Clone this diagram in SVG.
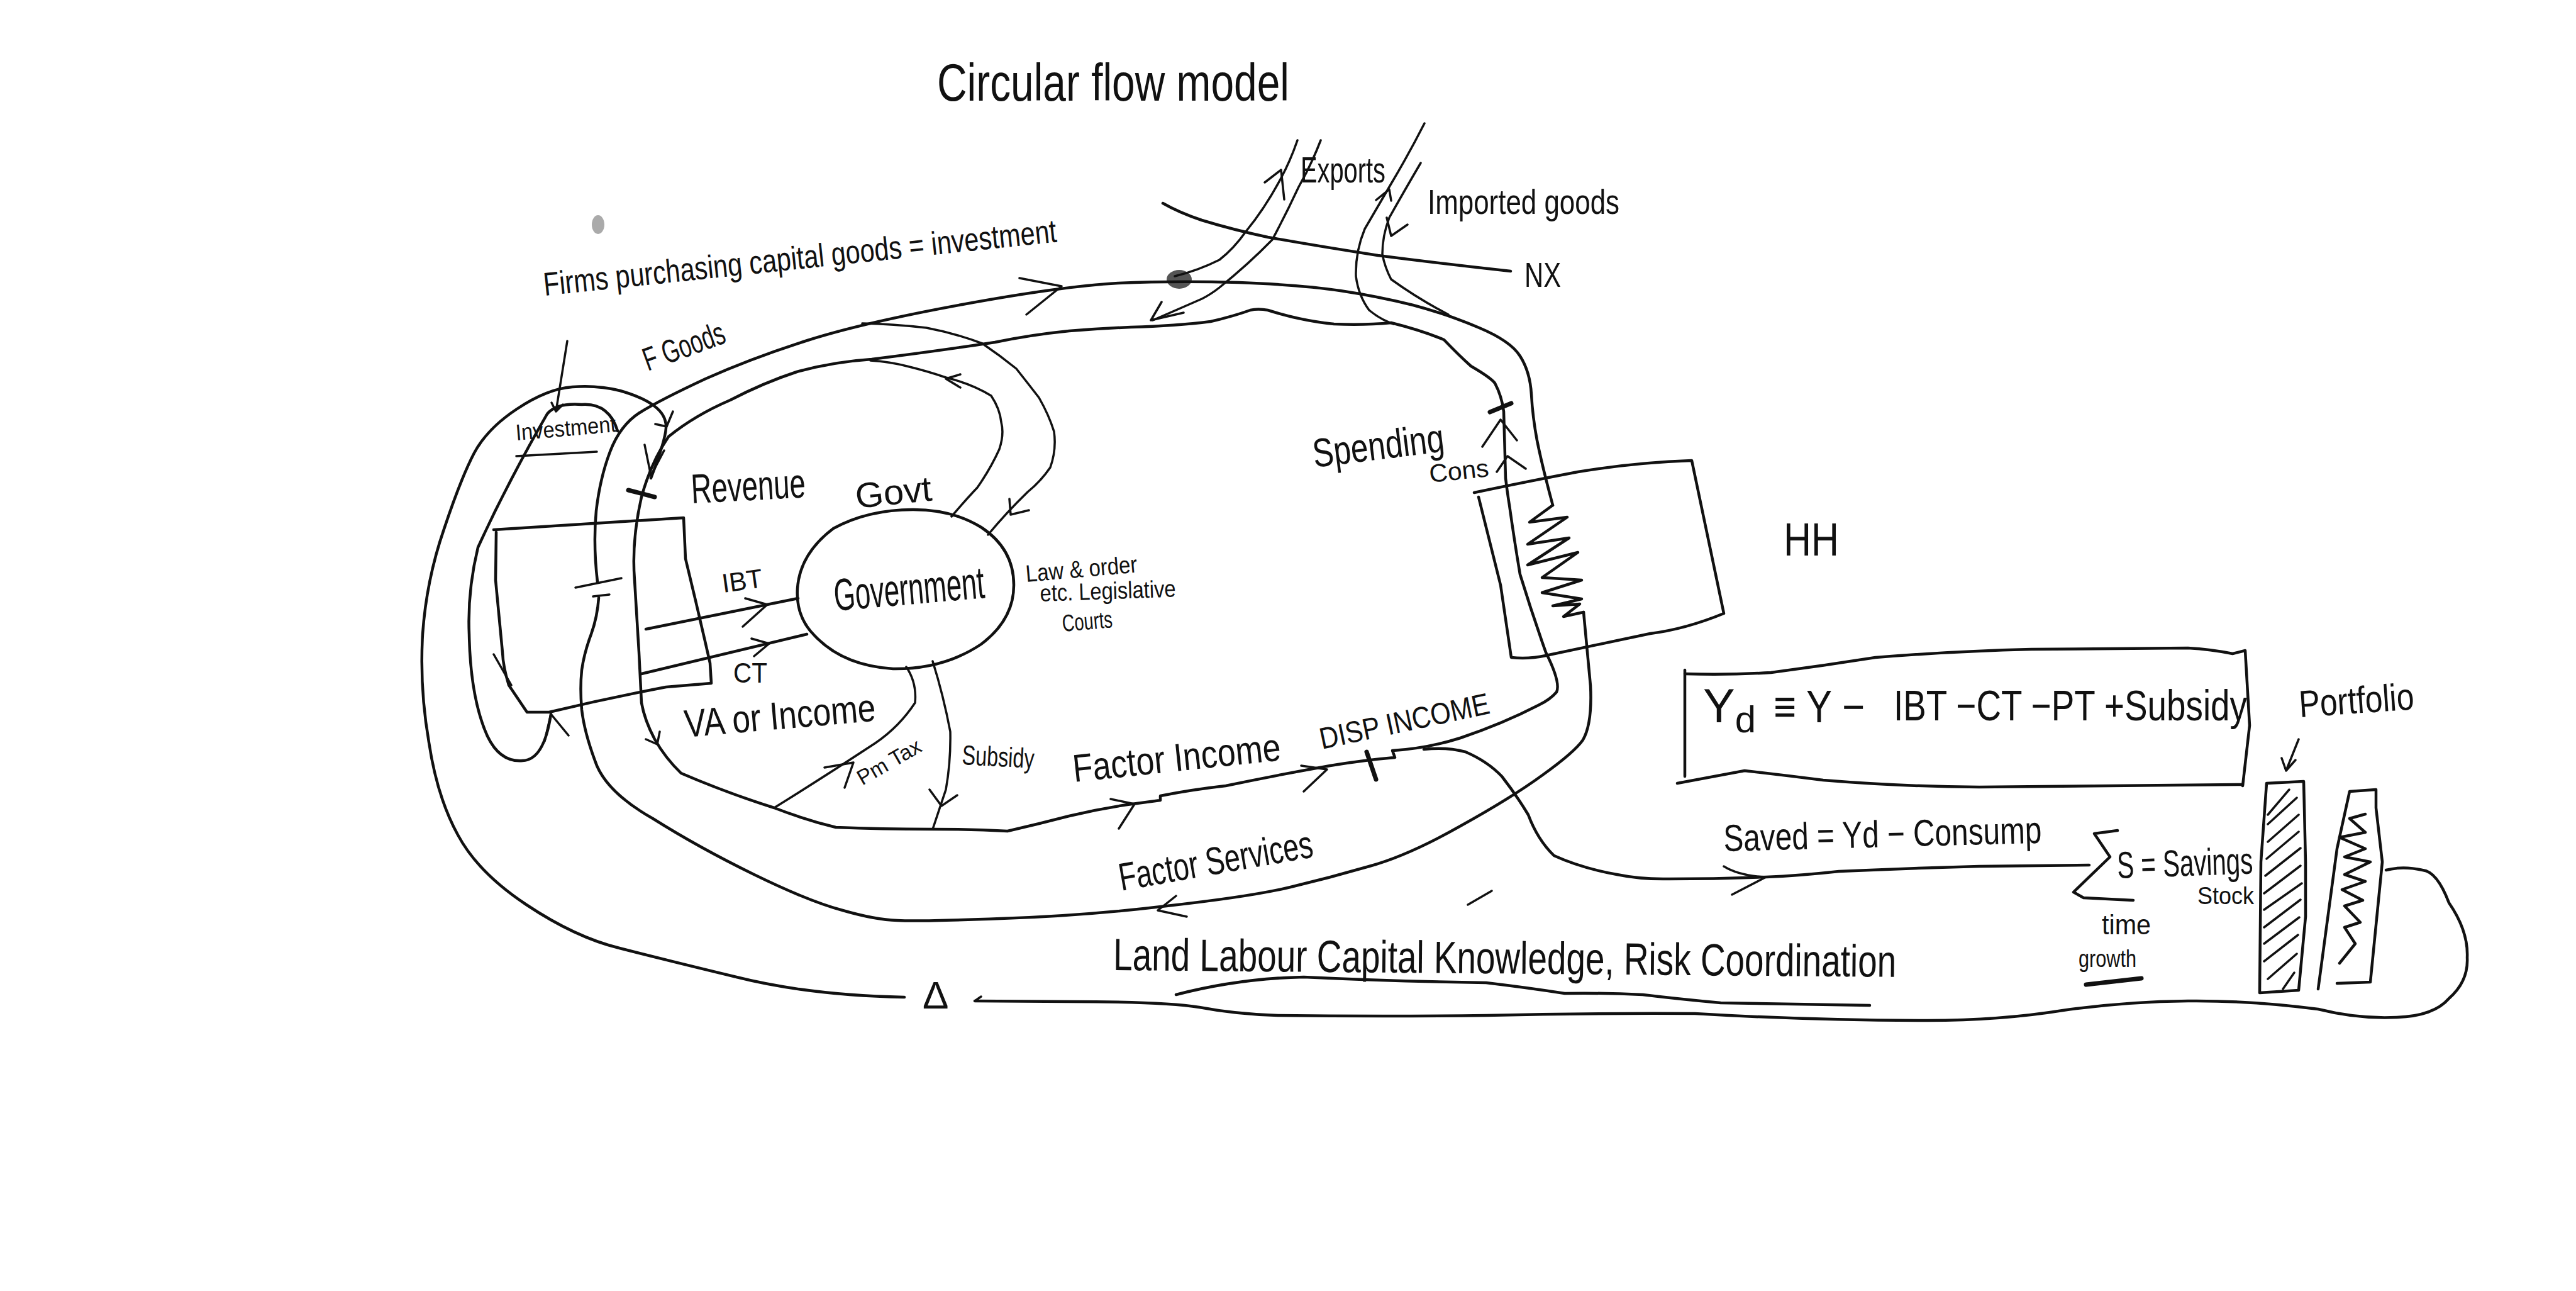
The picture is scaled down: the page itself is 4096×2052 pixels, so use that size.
<svg xmlns="http://www.w3.org/2000/svg" width="4096" height="2052" viewBox="0 0 4096 2052">
<style>
path,polyline{fill:none;stroke:#111;stroke-width:4.5;stroke-linecap:round;stroke-linejoin:round}
.t{stroke-width:3.5}
.k{stroke-width:7}
text{font-family:"Liberation Sans",Arial,sans-serif;fill:#111}
</style>
<rect width="4096" height="2052" fill="#fff"/>
<ellipse cx="951" cy="357" rx="10" ry="15" fill="#aaa"/>
<ellipse cx="1875" cy="444" rx="20" ry="15" fill="#555"/>
<g id="connectors">
<path id="goods-upper" d="M950 925Q943 865 948 812Q954 760 970 718Q986 676 1017 656Q1049 636 1122 602Q1196 569 1284 541Q1372 513 1530 484Q1688 455 1778 450Q1868 446 1970 449Q2072 453 2131 462Q2191 471 2247 485Q2303 500 2352 521Q2402 542 2417 566Q2433 591 2435 627Q2437 663 2444 700Q2452 740 2469 803"/>
<polyline id="coil-hh" points="2469,803 2432,830 2492,822 2429,865 2495,855 2429,898 2509,878 2452,918 2515,922 2452,942 2515,952 2469,963 2512,960 2486,980 2518,973"/>
<path id="factor-services" d="M2518 973L2529 1090Q2532 1150 2517 1176Q2504 1195 2454 1231Q2405 1267 2322 1313Q2239 1360 2177 1377Q2115 1395 2052 1410Q1990 1425 1855 1440Q1720 1456 1591 1460Q1462 1465 1427 1463Q1392 1462 1340 1447Q1287 1433 1199 1390Q1111 1347 1038 1301Q962 1258 946 1209Q929 1163 925 1128Q922 1094 925 1065Q929 1037 940 1008Q950 980 952 950"/>
<path id="income-loop" d="M1020 790Q1035 735 1063 694Q1105 660 1161 636Q1215 608 1267 591Q1325 575 1386 571Q1490 558 1582 544Q1640 532 1700 526Q1750 522 1798 520Q1870 518 1925 511Q1960 503 1988 493Q2000 490 2016 493Q2070 510 2121 515Q2170 517 2212 513Q2260 525 2296 540Q2320 565 2339 582Q2370 600 2377 609Q2388 630 2391 654L2394 760Q2397 785 2400 803Q2408 860 2417 913Q2436 975 2458 1037Q2482 1085 2475 1100Q2465 1112 2446 1121Q2390 1150 2322 1173Q2268 1190 2214 1193L2218 1204Q2170 1208 2115 1217Q2030 1232 1949 1249Q1895 1255 1845 1265L1845 1272L1800 1278Q1750 1285 1700 1297Q1650 1310 1602 1321Q1545 1318 1483 1318Q1400 1318 1329 1315Q1280 1303 1231 1284Q1155 1260 1083 1229Q1058 1205 1041 1175Q1025 1145 1020 1117L1016 1037L1009 922Q1004 860 1020 790"/>
<path id="outer-left" d="M1035 760Q1058 700 1059 680Q1060 660 1040 645Q1021 631 986 621Q951 612 910 615Q870 618 822 650Q775 681 754 720Q733 760 706 841Q678 922 672 1008Q667 1094 682 1180Q695 1267 728 1327Q760 1387 837 1438Q915 1490 985 1507Q1055 1525 1171 1553Q1287 1582 1438 1585"/>
<path id="outer-bottom" d="M1550 1591L1700 1592Q1850 1592 1907 1601Q1965 1612 2032 1614Q2200 1616 2363 1614Q2530 1610 2695 1611Q2880 1622 3065 1622Q3180 1622 3280 1606Q3380 1592 3479 1591Q3580 1590 3686 1604Q3750 1620 3811 1617Q3870 1615 3894 1587Q3925 1560 3923 1522Q3925 1480 3894 1435Q3875 1385 3852 1383Q3820 1376 3794 1383"/>
<path id="investment-loop" d="M982 685Q968 640 925 643Q885 640 870 658Q840 710 814 760Q785 815 760 870Q743 940 746 1008Q748 1110 775 1170Q795 1212 831 1209Q865 1208 876 1135"/>
<path id="gov-in" class="t" d="M1513 821Q1535 795 1554 775Q1575 745 1589 714Q1597 690 1592 671Q1590 650 1576 629Q1545 610 1504 600Q1475 590 1442 582Q1415 575 1384 573"/>
<path id="gov-out" class="t" d="M1571 850Q1600 815 1634 782Q1655 765 1670 743Q1680 715 1676 686Q1668 660 1652 632Q1635 610 1616 586Q1590 565 1562 546Q1520 530 1473 521Q1420 515 1371 514"/>
<path id="ibt" d="M1027 1000L1269 951"/>
<path id="ct" d="M1020 1071L1283 1008"/>
<path id="pm-tax" class="t" d="M1441 1060Q1458 1085 1455 1117Q1430 1155 1392 1181Q1310 1235 1231 1284"/>
<path id="subsidy" class="t" d="M1483 1051Q1500 1105 1511 1163Q1512 1210 1504 1255L1483 1318"/>
<path id="savings" d="M2264 1191Q2300 1187 2330 1195Q2365 1210 2388 1234Q2412 1265 2430 1295Q2445 1335 2471 1360Q2515 1380 2571 1390Q2610 1398 2654 1397Q2730 1397 2808 1394Q2860 1392 2924 1385Q3030 1380 3147 1377L3322 1375"/>
<path id="exports-out" class="t" d="M2063 223Q2052 255 2037 283Q2012 330 1981 368Q1962 395 1939 413Q1905 430 1868 439"/>
<path id="exports-in" class="t" d="M2100 223Q2085 262 2065 297Q2045 340 2023 381Q1985 420 1939 457Q1925 468 1911 475L1833 509"/>
<path id="imports-a" class="t" d="M2265 196Q2240 245 2212 292Q2190 330 2170 364Q2155 400 2156 439Q2160 470 2177 493Q2195 508 2216 515"/>
<path id="imports-b" class="t" d="M2259 259Q2232 305 2209 346Q2198 375 2198 404Q2202 425 2212 444Q2255 475 2303 500"/>
<path id="nx-line" d="M1849 323Q1875 338 1911 350Q1960 365 2016 377Q2100 392 2191 406Q2300 420 2402 431"/>
<path id="firms-arrow" class="t" d="M902 542L884 654M877 640L884 654L895 643"/>
<path id="law-line" d="M1870 1581Q1970 1555 2073 1553Q2220 1560 2363 1562Q2430 1570 2488 1579Q2550 1578 2612 1581Q2670 1588 2736 1594L2973 1598"/>
<path class="t" d="M2334 1438L2372 1416"/>
<path id="heads" class="t" d="M1621 442L1688 455L1632 500M1025 707L1035 756L1056 716M1042 674L1060 678L1070 654M866 1178L876 1135L904 1169M785 1040L813 1089M1185 951L1220 961L1181 996M1195 1015L1223 1023L1199 1043M1527 595L1504 602L1527 616M1605 793L1607 818L1636 811M1311 1220L1357 1212L1343 1252M1478 1255L1497 1281L1522 1264M1027 1175L1045 1183L1049 1163M1766 1270L1804 1278L1779 1317M2069 1217L2110 1223L2073 1258M2741 1377Q2765 1392 2808 1394L2754 1422M1870 1424L1841 1447L1887 1457M1560 1584L1550 1591M2011 290L2037 270L2042 317M1847 480L1830 509L1882 497M2188 318L2209 301L2212 319M2205 346L2212 375L2238 357M2357 710L2386 667L2412 700M2380 750L2397 725L2426 745M3655 1175L3635 1225M3628 1205L3635 1225L3650 1208"/>
<path class="k" d="M999 779L1041 790M2173 1195L2188 1239M2369 655L2403 641"/>
<path class="t" d="M915 934L988 919M943 948L969 945"/>
</g>
<g id="firms-box"><path d="M785 842L1087 823L1090 888Q1110 970 1129 1054L1131 1086L1059 1092Q965 1110 873 1132L838 1132L809 1089Q800 1060 799 1037L788 922L789 846"/></g>
<g id="government"><path d="M1452 810Q1515 810 1560 838Q1612 872 1612 930Q1612 985 1560 1024Q1500 1064 1420 1063Q1340 1058 1295 1010Q1265 980 1268 935Q1272 880 1325 840Q1380 810 1452 810Z"/>
<text x="1328" y="971" font-size="72" textLength="240" lengthAdjust="spacingAndGlyphs" transform="rotate(-5 1328 971)">Government</text></g>
<g id="households"><path d="M2344 783Q2430 765 2509 750Q2600 735 2690 732L2741 975Q2680 1000 2624 1007L2458 1042Q2430 1048 2403 1045L2386 930L2351 790"/>
<text x="2836" y="883" font-size="74" textLength="88" lengthAdjust="spacingAndGlyphs">HH</text></g>
<g id="investment"><path class="t" d="M821 725L949 718"/><text x="821" y="700" font-size="36" textLength="160" lengthAdjust="spacingAndGlyphs" transform="rotate(-5 821 700)">Investment</text></g>
<g id="yd-box"><path d="M2679 1065L2679 1234"/><path d="M2679 1071Q2750 1073 2816 1069Q2900 1058 2982 1045Q3105 1035 3230 1032L3479 1030Q3515 1032 3550 1039L3570 1034L3577 1153L3566 1249"/><path d="M2667 1245Q2720 1235 2774 1225Q2835 1232 2899 1240Q3020 1250 3147 1251L3566 1247"/>
<text x="2708" y="1148" font-size="76">Y<tspan font-size="60" dy="16">d</tspan></text>
<text x="2820" y="1148" font-size="72" textLength="145" lengthAdjust="spacingAndGlyphs">≡ Y −</text>
<text x="3011" y="1145" font-size="68" textLength="562" lengthAdjust="spacingAndGlyphs">IBT −CT −PT +Subsidy</text></g>
<g id="stock-bar"><path d="M3604 1245L3663 1242L3666 1370L3666 1457L3655 1574L3593 1578L3595 1370Z"/><path class="t" d="M3640 1255L3606 1295M3652 1268L3606 1310M3655 1295L3606 1338M3655 1322L3604 1365M3658 1348L3602 1392M3658 1376L3600 1420M3660 1404L3600 1446M3658 1430L3600 1474M3656 1458L3600 1500M3654 1486L3600 1528M3652 1516L3606 1556M3648 1546L3630 1572"/></g>
<g id="portfolio-bar"><path d="M3686 1572L3716 1349L3736 1258L3778 1255L3778 1284L3788 1370L3769 1561L3716 1563"/><polyline points="3761,1294 3736,1301 3761,1323 3720,1331 3761,1349 3728,1362 3769,1370 3728,1390 3761,1401 3724,1414 3757,1431 3728,1440 3753,1466 3728,1474 3745,1500 3720,1531"/></g>
<g id="sigma"><path d="M3367 1320L3330 1325L3355 1362L3297 1418L3313 1427L3392 1431"/><path class="k" d="M3317 1565L3405 1555"/></g>
<g id="labels">
<text x="1490" y="160" font-size="84" textLength="560" lengthAdjust="spacingAndGlyphs">Circular flow model</text>
<text x="2068" y="290" font-size="58" textLength="135" lengthAdjust="spacingAndGlyphs">Exports</text>
<text x="2270" y="340" font-size="56" textLength="305" lengthAdjust="spacingAndGlyphs">Imported goods</text>
<text x="2424" y="456" font-size="56" textLength="58" lengthAdjust="spacingAndGlyphs">NX</text>
<text x="866" y="470" font-size="52" textLength="820" lengthAdjust="spacingAndGlyphs" transform="rotate(-6 866 470)">Firms purchasing capital goods = investment</text>
<text x="1030" y="590" font-size="52" textLength="135" lengthAdjust="spacingAndGlyphs" transform="rotate(-20 1030 590)">F Goods</text>
<text x="1100" y="800" font-size="66" textLength="182" lengthAdjust="spacingAndGlyphs" transform="rotate(-3 1100 800)">Revenue</text>
<text x="1362" y="808" font-size="56" textLength="122" lengthAdjust="spacingAndGlyphs" transform="rotate(-6 1362 808)">Govt</text>
<text x="1150" y="942" font-size="42" textLength="65" lengthAdjust="spacingAndGlyphs" transform="rotate(-8 1150 942)">IBT</text>
<text x="1166" y="1085" font-size="44" textLength="54" lengthAdjust="spacingAndGlyphs">CT</text>
<text x="1632" y="925" font-size="38" textLength="178" lengthAdjust="spacingAndGlyphs" transform="rotate(-5 1632 925)">Law &amp; order</text>
<text x="1654" y="956" font-size="38" textLength="216" lengthAdjust="spacingAndGlyphs" transform="rotate(-2 1654 956)">etc. Legislative</text>
<text x="1690" y="1004" font-size="38" textLength="80" lengthAdjust="spacingAndGlyphs" transform="rotate(-5 1690 1004)">Courts</text>
<text x="1090" y="1172" font-size="62" textLength="305" lengthAdjust="spacingAndGlyphs" transform="rotate(-5 1090 1172)">VA or Income</text>
<text x="1371" y="1249" font-size="34" textLength="112" lengthAdjust="spacingAndGlyphs" transform="rotate(-30 1371 1249)">Pm Tax</text>
<text x="1529" y="1215" font-size="44" textLength="115" lengthAdjust="spacingAndGlyphs" transform="rotate(3 1529 1215)">Subsidy</text>
<text x="1708" y="1243" font-size="62" textLength="332" lengthAdjust="spacingAndGlyphs" transform="rotate(-6 1708 1243)">Factor Income</text>
<text x="2102" y="1191" font-size="48" textLength="275" lengthAdjust="spacingAndGlyphs" transform="rotate(-12 2102 1191)">DISP INCOME</text>
<text x="1783" y="1416" font-size="62" textLength="312" lengthAdjust="spacingAndGlyphs" transform="rotate(-10 1783 1416)">Factor Services</text>
<text x="2090" y="743" font-size="64" textLength="210" lengthAdjust="spacingAndGlyphs" transform="rotate(-7 2090 743)">Spending</text>
<text x="2274" y="767" font-size="40" textLength="95" lengthAdjust="spacingAndGlyphs" transform="rotate(-6 2274 767)">Cons</text>
<text x="3657" y="1140" font-size="60" textLength="183" lengthAdjust="spacingAndGlyphs" transform="rotate(-4 3657 1140)">Portfolio</text>
<text x="2741" y="1353" font-size="60" textLength="506" lengthAdjust="spacingAndGlyphs" transform="rotate(-1.5 2741 1353)">Saved = Yd − Consump</text>
<text x="3367" y="1396" font-size="60" textLength="216" lengthAdjust="spacingAndGlyphs" transform="rotate(-2 3367 1396)">S = Savings</text>
<text x="3494" y="1437" font-size="38" textLength="90" lengthAdjust="spacingAndGlyphs">Stock</text>
<text x="3342" y="1485" font-size="44" textLength="78" lengthAdjust="spacingAndGlyphs">time</text>
<text x="3305" y="1537" font-size="38" textLength="92" lengthAdjust="spacingAndGlyphs">growth</text>
<text x="1770" y="1542" font-size="72" textLength="1245" lengthAdjust="spacingAndGlyphs" transform="rotate(0.5 1770 1542)">Land Labour Capital Knowledge, Risk Coordination</text>
<text x="1467" y="1603" font-size="62">Δ</text>
</g>
</svg>
